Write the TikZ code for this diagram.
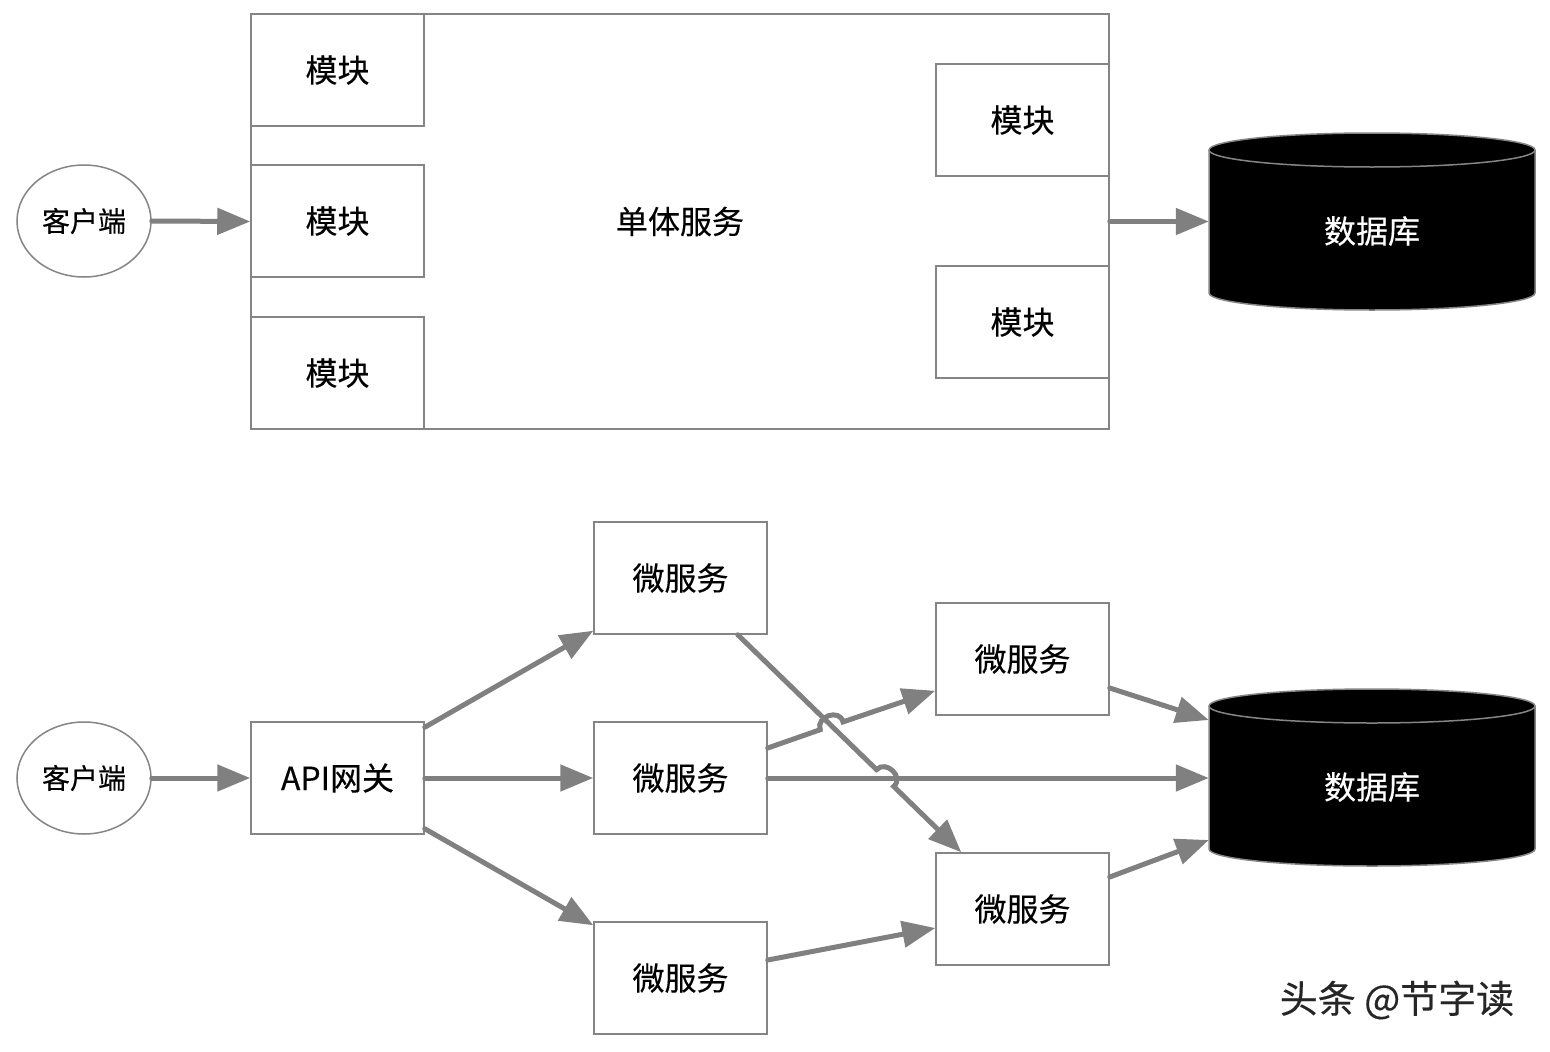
\documentclass[tikz,border=0pt]{standalone}
\usepackage{fontspec}
\setmainfont{Noto Sans CJK SC}[FakeBold=0.3]
\usetikzlibrary{arrows.meta,shapes.geometric,calc}
\definecolor{linegray}{HTML}{808080}
\definecolor{boxgray}{HTML}{858585}
\begin{document}
\begin{tikzpicture}[x=1pt,y=-1pt,
    font=\fontsize{32}{38}\selectfont,
    box/.style={draw=boxgray,line width=1.5pt,fill=white,minimum width=173pt,minimum height=112pt,inner sep=0pt},
    client/.style={ellipse,draw=boxgray,line width=1.5pt,minimum width=134pt,minimum height=112pt,inner sep=0pt,font=\fontsize{28}{34}\selectfont},
    arr/.style={draw=linegray,line width=5pt,line cap=round,-{Triangle[length=33pt,width=26pt]}},
    dbbody/.style={fill=black,draw=boxgray,line width=1.5pt},
    dbtext/.style={text=white,minimum width=326pt,inner sep=0pt}]
    \useasboundingbox[fill=white] (0,0) rectangle (1550,1052);

    % monolith
    \node[box,minimum width=858pt,minimum height=415pt] (mono) at (680,221.5) {单体服务};
    \node[box] (ma) at (337.5,70) {模块};
    \node[box] (mb) at (337.5,221) {模块};
    \node[box] (mc) at (337.5,373) {模块};
    \node[box] (md) at (1022.5,120) {模块};
    \node[box] (me) at (1022.5,322) {模块};
    \node[client] (c1) at (84,221) {客户端};

    % databases
    \foreach \cy in {221.5,777.5} {
        \filldraw[dbbody] (1209,\cy-71.5) -- (1209,\cy+71.5)
            arc[start angle=180,end angle=0,x radius=163,y radius=17] -- (1535,\cy-71.5)
            arc[start angle=0,end angle=-180,x radius=163,y radius=17] -- cycle;
        \draw[boxgray,line width=1.5pt] (1209,\cy-71.5) arc[start angle=180,end angle=0,x radius=163,y radius=17];
    }
    \node[dbtext] (db1) at (1372,231) {数据库};
    \node[dbtext] (db2) at (1372,787) {数据库};

    \draw[arr] (c1.east) -- (mono.west);
    \draw[arr] (mono.east) -- (mono.east -| db1.west);

    % microservices
    \node[client] (c2) at (84,778) {客户端};
    \node[box] (api) at (337.5,778) {API网关};
    \node[box] (m1) at (680.5,578) {微服务};
    \node[box] (m2) at (680.5,778) {微服务};
    \node[box] (m3) at (680.5,978) {微服务};
    \node[box] (m4) at (1022.5,659) {微服务};
    \node[box] (m5) at (1022.5,909) {微服务};

    \draw[arr] (c2.east) -- (api.west);
    \draw[arr] ($(api.north east)+(0,6)$) -- ($(m1.south west)+(0,-4)$);
    \draw[arr] (api.east) -- (m2.west);
    \draw[arr] ($(api.south east)+(0,-6)$) -- ($(m3.north west)+(0,4)$);
    \draw[arr] (m2.east) -- (m2.east -| db2.west);
    \draw[arr] ($(m2.east)+(0,-30)$) -- (820.2,729.7)
        .. controls (815.6,716.5) and (839.6,708.2) .. (843.0,721.9)
        -- ($(m4.south west)+(0,-25)$);
    \draw[arr] ($(m1.south east)+(-30,0)$) -- (876.5,769.6)
        .. controls (886.3,759.6) and (904.4,777.3) .. (893.7,786.4)
        -- ($(m5.north west)+(26,0)$);
    \draw[arr] ($(m3.east)+(0,-18)$) -- ($(m5.west)+(0,19)$);
    \draw[arr] ($(m4.east)+(0,29)$) -- ($(db2.west)+(0,-67)$);
    \draw[arr] ($(m5.east)+(0,-32)$) -- ($(db2.west)+(0,53)$);

    \node[text=black!85,font=\fontsize{38}{44}\selectfont] (wm) at (1397,1000) {头条 @节字读};
\end{tikzpicture}
\end{document}
